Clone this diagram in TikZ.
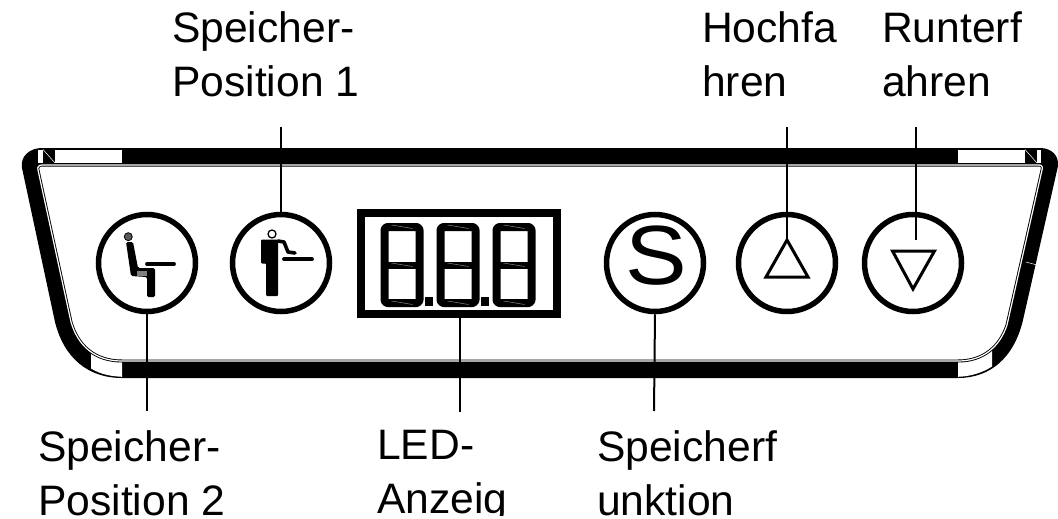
\documentclass[tikz,border=0pt]{standalone}
\usepackage{fontspec}
\setmainfont{Liberation Sans}
\tikzset{
  lab/.style={anchor=north west,inner sep=0pt,align=left,font=\fontsize{42.6}{54}\selectfont},
  btn/.style={circle,draw=black,line width=5.5pt,minimum size=97pt,inner sep=0pt,fill=white},
  leader/.style={draw=black,line width=2pt},
  tri/.style={draw=black,line width=3pt,line join=miter},
  seg/.style={draw=black,line join=round,rounded corners=3pt},
  thin edge/.style={draw=black,line width=.9pt},
  slit/.style={draw=white,line width=.5pt},
}
\begin{document}
\begin{tikzpicture}[x=1pt,y=-1pt]
\useasboundingbox (0,0) rectangle (1058,519);
% housing
\fill[black] (42,148) -- (1040,148) .. controls (1052,148) and (1059,156) .. (1058,166)
  -- (1023,320) .. controls (1014,358) and (990,378) .. (958,378) -- (122,378)
  .. controls (88,378) and (64,358) .. (55,322) -- (22,168)
  .. controls (20,156) and (30,148) .. (42,148) -- cycle;
% white patches of the housing
\fill[white] (55,149.5) rectangle (122,163);
\fill[white] (958,149.5) rectangle (1025,163);
\fill[white] (38,149.5) rectangle (43,163);
\fill[white] (1037,149.5) rectangle (1041,163);
\draw[slit] (43,149.5) -- (55,163);
\draw[slit] (1025,149.5) -- (1037,163);
\draw[slit] (1026,262) -- (1037,265);
\fill[white] (91,345) -- (122,345) -- (122,376.8) .. controls (110,376.3) and (100,374) .. (91,368.5) -- cycle;
\fill[white] (958,345) -- (992,345) -- (992,366.5) .. controls (982,373) and (970,376.5) .. (958,376.8) -- cycle;
% panel
\draw[thin edge,fill=white,double=white,double distance=1.2pt]
  (42,165) -- (1039,165) .. controls (1042,165) and (1043,167) .. (1042,170)
  -- (1007,325) .. controls (1000,346) and (984,361) .. (958,361) -- (122,361)
  .. controls (95,361) and (78,346) .. (71,322) -- (38,170)
  .. controls (37,167) and (39,165) .. (42,165) -- cycle;
% buttons
\node[btn] (b1) at (147,263) {};
\node[btn] (b2) at (281,263) {};
\node[btn] (b3) at (655,263) {};
\node[inner sep=0pt] (b3s) at (656,255.5) {\scalebox{1.1}[1]{\fontsize{84}{84}\selectfont S}};
\node[btn] (b4) at (787,263) {};
\node[btn] (b5) at (913,263) {};
% LED display
\node[draw=black,line width=8pt,minimum width=196pt,minimum height=101pt,inner sep=0pt,fill=white] (led) at (459,263.5) {};
\foreach \x in {384.5,440.5,496.5}{
  \draw[seg,line width=8pt] (\x,227) rectangle (\x+35,303);
  \draw[black,line width=7pt] (\x,265) -- (\x+35,265);
  \draw[slit,draw=gray] (\x+7,225) -- (\x+28,228.5);
  \draw[slit,draw=gray] (\x+7,263) -- (\x+28,266.5);
  \draw[slit,draw=gray] (\x+7,301) -- (\x+28,304.5);
}
\fill[black] (425,297) rectangle (433,306);
\fill[black] (481,297) rectangle (489,306);
% seated icon
\draw[black,fill=gray!70!black,line width=.8pt] (128.3,236.7) circle (4pt);
\fill[black,rounded corners=1.5pt] (126,242) -- (133,242) -- (138,268) -- (155,268) -- (155,297) -- (147,297) -- (147,277) -- (131,276) -- cycle;
\fill[gray] (137,270.5) rectangle (147,276);
\draw[black,line width=3.8pt,line cap=round] (147,264) -- (174,264);
% standing icon
\draw[black,line width=1.3pt] (272,234) circle (4pt);
\fill[black,rounded corners=1pt] (261,239.5) -- (278,239.5) -- (278,296) -- (266,296) -- (266,263.5) -- (261,263.5) -- cycle;
\draw[black,line width=3.6pt,line join=round,line cap=round] (278,241) -- (284,242) -- (288,252) -- (295,253);
\draw[black,line width=3.8pt,line cap=round] (284,259.3) -- (312,259.3);
% triangles
\draw[tri] (787,240) -- (808,277) -- (766,277) -- cycle;
\draw[tri] (892.5,251) -- (934.5,251) -- (913,289) -- cycle;
% labels
\node[lab] (t2) at (172,11) {Speicher-\\Position 1};
\node[lab] (t4) at (702,11) {Hochfa\\hren};
\node[lab] (t5) at (882,11) {Runterf\\ahren};
\node[lab] (t1) at (38,430) {Speicher-\\Position 2};
\node[lab] (t3) at (377,430) {LED-\\Anzeig};
\node[lab] (t6) at (597,430) {Speicherf\\unktion};
\fill[white] (370,516) rectangle (520,519);
% connector ends
\coordinate (c2) at (281,127);
\coordinate (c4) at (787,127);
\coordinate (c4e) at (787,240);
\coordinate (c5) at (915.5,127);
\coordinate (c5e) at (915.5,240);
\coordinate (c1) at (147,411);
\coordinate (c3) at (460,412);
\coordinate (c6) at (654,411);
\draw[leader] (c2) -- (b2.north);
\draw[leader] (c4) -- (c4e);
\draw[leader] (c5) -- (c5e);
\draw[leader] (c1) -- (b1.south);
\draw[leader] (c3) -- (led.south -| c3);
\draw[leader] (c6) -- (b3.south);
\end{tikzpicture}
\end{document}
